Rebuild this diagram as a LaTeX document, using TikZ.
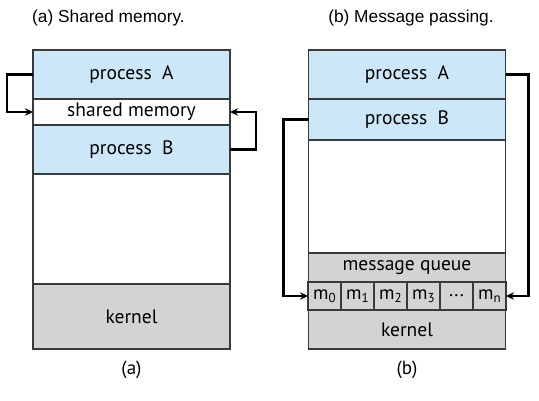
\documentclass[tikz,border=0pt]{standalone}
\usepackage{fontspec}
\setmainfont{PT Sans}
\newfontfamily\titlefont{Liberation Sans}
\usetikzlibrary{arrows.meta}
\definecolor{procblue}{HTML}{CCE8F8}
\definecolor{kgrey}{HTML}{D3D3D3}
\definecolor{edge}{HTML}{3A3A3A}
\tikzset{
  blk/.style={draw=edge, line width=1.3pt, minimum width=197pt, inner sep=0pt, outer sep=0pt, font=\fontsize{19.5}{19.5}\selectfont},
  proc/.style={blk, fill=procblue},
  kern/.style={blk, fill=kgrey},
  plain/.style={blk, fill=white},
  cell/.style={draw=edge, line width=1.1pt, fill=kgrey, minimum width=33pt, minimum height=28pt, inner sep=0pt, outer sep=0pt, font=\fontsize{19}{19}\selectfont},
  arr/.style={line width=2.4pt, black, -{Stealth[length=8pt,width=7.5pt]}},
  ttl/.style={font=\titlefont\fontsize{17.3}{17.3}\selectfont},
  sub/.style={font=\fontsize{19}{19}\selectfont}
}
\newcommand{\msub}[1]{m\raisebox{-0.3ex}{\fontsize{13}{13}\selectfont #1}}
\begin{document}
\begin{tikzpicture}[x=1pt,y=-1pt]
\useasboundingbox (0,0) rectangle (539,400);
% titles
\node[ttl] (ta) at (108.5,18) {(a) Shared memory.};
\node[ttl] (tb) at (411,18) {(b) Message passing.};
% left panel
\node[proc, minimum height=49pt] (pA) at (131.5,74.5) {process\ \ A};
\node[plain, minimum height=26pt] (sm) at (131.5,112) {shared memory};
\node[proc, minimum height=49pt] (pB) at (131.5,149.5) {process\ \ B};
\node[plain, minimum height=110pt] (ea) at (131.5,229) {};
\node[kern, minimum height=65pt] (ka) at (131.5,316.5) {kernel};
\node[sub] (la) at (131.5,370) {(a)};
\draw[arr] (pA.west) -- ++(-26,0) |- (sm.west);
\draw[arr] (pB.east) -- ++(26,0) |- (sm.east);
% right panel
\node[proc, minimum height=49pt] (pA2) at (407,74.5) {process\ \ A};
\node[proc, minimum height=41pt] (pB2) at (407,119.5) {process\ \ B};
\node[plain, minimum height=113pt] (eb) at (407,196.5) {};
\node[kern, minimum height=29pt] (mq) at (407,267.5) {message queue};
\node[cell] (m0) at (324.5,296) {\msub{0}};
\node[cell] (m1) at (357.5,296) {\msub{1}};
\node[cell] (m2) at (390.5,296) {\msub{2}};
\node[cell] (m3) at (423.5,296) {\msub{3}};
\node[cell] (md) at (456.5,296) {...};
\node[cell] (mn) at (489.5,296) {\msub{n}};
\node[kern, minimum height=39pt] (kb) at (407,329.5) {kernel};
\node[sub] (lb) at (407,370) {(b)};
\draw[arr] (pA2.east) -- ++(23,0) |- (mn.east);
\draw[arr] (pB2.west) -- ++(-25,0) |- (m0.west);
\end{tikzpicture}
\end{document}
